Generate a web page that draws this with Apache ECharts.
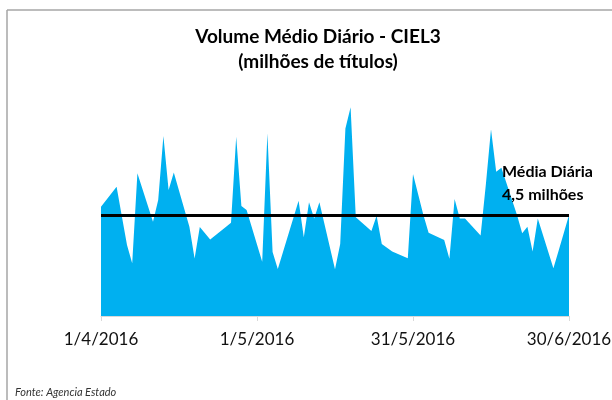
<!DOCTYPE html>
<html>
<head>
<meta charset="utf-8">
<script src="https://cdn.jsdelivr.net/npm/echarts@6/dist/echarts.min.js"></script>
<style>
    html, body { margin: 0; padding: 0; background: #fff; }
    #main { width: 612px; height: 400px; }
</style>
</head>
<body>
<div id="main"></div>
<script>
    // pregões de abr-jun/2016 e volume diário (milhões de títulos)
    var dates = [
        '2016-04-01', '2016-04-04', '2016-04-05', '2016-04-06', '2016-04-07', '2016-04-08',
        '2016-04-11', '2016-04-12', '2016-04-13', '2016-04-14', '2016-04-15',
        '2016-04-18', '2016-04-19', '2016-04-20', '2016-04-22',
        '2016-04-25', '2016-04-26', '2016-04-27', '2016-04-28', '2016-04-29',
        '2016-05-02', '2016-05-03', '2016-05-04', '2016-05-05', '2016-05-06',
        '2016-05-09', '2016-05-10', '2016-05-11', '2016-05-12', '2016-05-13',
        '2016-05-16', '2016-05-17', '2016-05-18', '2016-05-19', '2016-05-20',
        '2016-05-23', '2016-05-24', '2016-05-25', '2016-05-27', '2016-05-30', '2016-05-31',
        '2016-06-01', '2016-06-02', '2016-06-03',
        '2016-06-06', '2016-06-07', '2016-06-08', '2016-06-09', '2016-06-10',
        '2016-06-13', '2016-06-14', '2016-06-15', '2016-06-16', '2016-06-17',
        '2016-06-20', '2016-06-21', '2016-06-22', '2016-06-23', '2016-06-24',
        '2016-06-27', '2016-06-28', '2016-06-29', '2016-06-30'
    ];
    var volumes = [
        4.87, 5.76, 4.46, 3.16, 2.35, 6.36,
        4.20, 5.17, 8.02, 5.61, 6.39,
        3.98, 2.56, 3.97, 3.41,
        3.97, 4.16, 7.99, 4.90, 4.72,
        2.42, 8.14, 2.85, 2.10, 2.85,
        5.14, 3.51, 5.07, 4.35, 5.07,
        2.08, 3.21, 8.36, 9.30, 4.40,
        3.79, 4.47, 3.21, 2.87, 2.57, 6.33,
        5.41, 4.50, 3.71,
        3.39, 2.55, 5.21, 4.35, 4.35,
        3.59, 5.84, 8.32, 6.43, 6.61,
        4.50, 3.69, 3.98, 2.87, 4.35,
        2.13, 2.91, 3.70, 4.50
    ];
    var mediaDiaria = 4.5;
    var tickLabels = ['1/4/2016', '1/5/2016', '31/5/2016', '30/6/2016'];

    var DAY = 86400000;
    var start = Date.UTC(2016, 3, 1);
    function dayOf(s) {
        var p = s.split('-');
        return Math.round((Date.UTC(+p[0], +p[1] - 1, +p[2]) - start) / DAY);
    }
    var seriesData = [];
    for (var i = 0; i < dates.length; i++) {
        seriesData.push([dayOf(dates[i]), volumes[i]]);
    }

    var myChart = echarts.init(document.getElementById('main'));
    var font = 'Lato, "Open Sans", sans-serif';
    var option = {
        animation: false,
        title: {
            text: 'Volume Médio Diário - CIEL3\n(milhões de títulos)',
            left: 313,
            top: 19,
            textAlign: 'center',
            textStyle: {
                fontFamily: font,
                fontSize: 19,
                fontWeight: 'bold',
                color: '#000',
                lineHeight: 25
            }
        },
        grid: {
            left: 101,
            right: 43,
            top: 91.6,
            bottom: 84,
            outerBoundsMode: 'none'
        },
        xAxis: {
            type: 'value',
            min: 0,
            max: 90,
            interval: 30,
            axisLine: { show: true, lineStyle: { color: '#D9D9D9', width: 1 } },
            axisTick: { show: true, length: 5, lineStyle: { color: '#D9D9D9' } },
            splitLine: { show: false },
            axisLabel: {
                margin: 15,
                fontFamily: font,
                fontSize: 17,
                color: '#111',
                formatter: function (v) { return tickLabels[Math.round(v / 30)]; }
            }
        },
        yAxis: {
            type: 'value',
            min: 0,
            max: 10,
            show: false
        },
        graphic: [
            { type: 'line', shape: { x1: 7, y1: 10, x2: 612, y2: 10 }, style: { stroke: '#A6A6A6', lineWidth: 1.5 } },
            { type: 'line', shape: { x1: 7, y1: 10, x2: 7, y2: 400 }, style: { stroke: '#A6A6A6', lineWidth: 1.5 } },
            {
                type: 'text', left: 502, top: 160, z: 10,
                style: {
                    text: 'Média Diária\n4,5 milhões',
                    font: 'bold 16px Lato, "Open Sans", sans-serif',
                    fill: '#000',
                    lineHeight: 23
                }
            },
            {
                type: 'text', left: 15, top: 387,
                style: {
                    text: 'Fonte: Agencia Estado',
                    font: 'italic 11px Lato, "Open Sans", sans-serif',
                    fill: '#333'
                }
            }
        ],
        series: [
            {
                type: 'line',
                data: seriesData,
                showSymbol: false,
                symbol: 'none',
                lineStyle: { width: 0 },
                areaStyle: { color: '#00B0F0', opacity: 1 },
                markLine: {
                    silent: true,
                    symbol: 'none',
                    label: { show: false },
                    lineStyle: { color: '#000', width: 3, type: 'solid' },
                    data: [{ yAxis: mediaDiaria }]
                }
            }
        ]
    };
    myChart.setOption(option);
</script>
</body>
</html>
